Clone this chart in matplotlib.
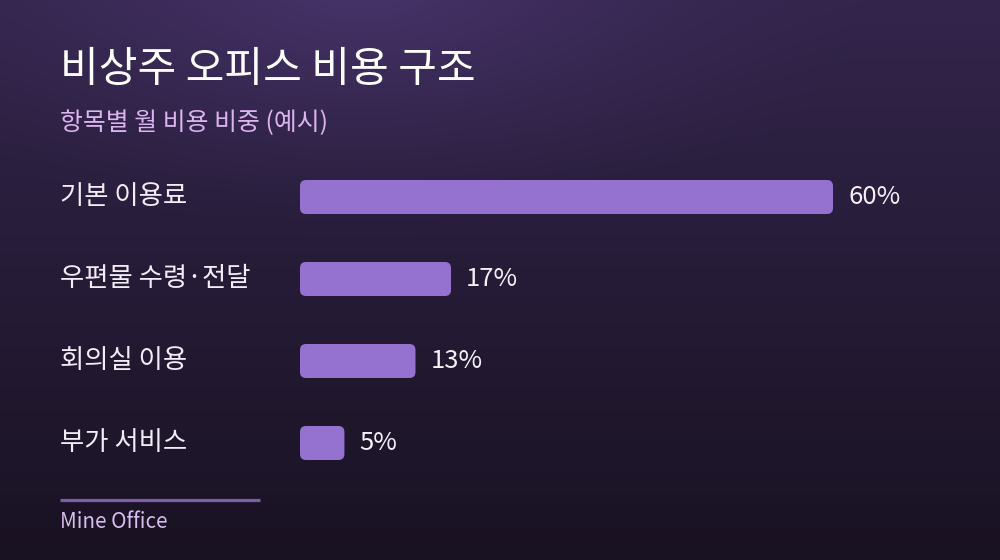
import numpy as np
import matplotlib
matplotlib.use("Agg")
import matplotlib.pyplot as plt
from matplotlib.patches import FancyBboxPatch
import matplotlib.transforms as mtransforms

plt.rcParams['font.family'] = ['Noto Sans CJK KR', 'DejaVu Sans']

# ---- data ----
title = "비상주 오피스 비용 구조"
subtitle = "항목별 월 비용 비중 (예시)"
categories = ["기본 이용료", "우편물 수령·전달", "회의실 이용", "부가 서비스"]
values = [60, 17, 13, 5]
value_labels = ["60%", "17%", "13%", "5%"]
footer = "Mine Office"

W, H = 1000, 560
fig = plt.figure(figsize=(W / 100, H / 100), dpi=100)

# ---- background gradient ----
bg = fig.add_axes([0, 0, 1, 1])
bg.set_axis_off()
yy, xx = np.mgrid[0:H, 0:W]
t = yy / (H - 1)
top = np.array([0x33, 0x25, 0x4c]) / 255
bot = np.array([0x19, 0x12, 0x22]) / 255
img = top[None, None, :] * (1 - t[..., None]) + bot[None, None, :] * t[..., None]
# soft glow near top centre
d = np.sqrt(((xx - 360) / 520.0) ** 2 + ((yy + 20) / 260.0) ** 2)
glow = np.clip(1 - d, 0, 1) ** 1.5
glow_col = np.array([0x4b, 0x36, 0x70]) / 255
img = img * (1 - glow[..., None] * 0.85) + glow_col[None, None, :] * glow[..., None] * 0.85
bg.imshow(img, extent=[0, 1, 0, 1], aspect='auto', origin='upper')
bg.set_xlim(0, 1)
bg.set_ylim(0, 1)

# ---- bars axes ----
px_per_unit = 533 / 60.0
row_px = 82.0
ax_left, ax_right = 300, 1000
ax_top, ax_bot = 150, 490
ax = fig.add_axes([ax_left / W, 1 - ax_bot / H, (ax_right - ax_left) / W, (ax_bot - ax_top) / H])
ax.set_axis_off()
ax.set_xlim(0, (ax_right - ax_left) / px_per_unit)
y0 = (197 - ax_top) / row_px
ax.set_ylim(3 + (ax_bot - 443) / row_px, -y0)

bar_h = 34 / row_px
bar_color = "#9672d0"
ypos = np.arange(len(categories))
bars = ax.barh(ypos, values, height=bar_h, color=bar_color)

r_px = 6.0
aspect = (1 / row_px) / (1 / px_per_unit)
for rect in bars:
    x, y = rect.get_x(), rect.get_y()
    w, h = rect.get_width(), rect.get_height()
    rect.set_visible(False)
    p = FancyBboxPatch((x, y), w, h,
                       boxstyle=f"round,pad=0,rounding_size={r_px / px_per_unit}",
                       mutation_aspect=aspect,
                       facecolor=bar_color, edgecolor='none')
    ax.add_patch(p)

for yi, v, lab in zip(ypos, values, value_labels):
    ax.annotate(lab, xy=(v, yi), xytext=(15 * 0.72, 0), textcoords='offset points',
                ha='left', va='center', color='#f4f0f8', fontsize=18.5)

trans = mtransforms.blended_transform_factory(fig.transFigure, ax.transData)
for yi, c in zip(ypos, categories):
    ax.text(60 / W, yi, c, transform=trans, ha='left', va='center',
            color='#f1ecf6', fontsize=19)

# ---- titles ----
fig.text(60 / W, 1 - 70 / H, title, ha='left', va='center', color='#ffffff', fontsize=30.3)
fig.text(60 / W, 1 - 123 / H, subtitle, ha='left', va='center', color='#dcb4f0', fontsize=17.9)

# ---- footer ----
bg.plot([60 / W, 260 / W], [1 - 500 / H, 1 - 500 / H], color='#7b5ea7', lw=2.3,
        solid_capstyle='butt')
fig.text(60 / W, 1 - 522 / H, footer, ha='left', va='center', color='#d9bdf0', fontsize=14.8)

fig.savefig("out.png", dpi=100)
